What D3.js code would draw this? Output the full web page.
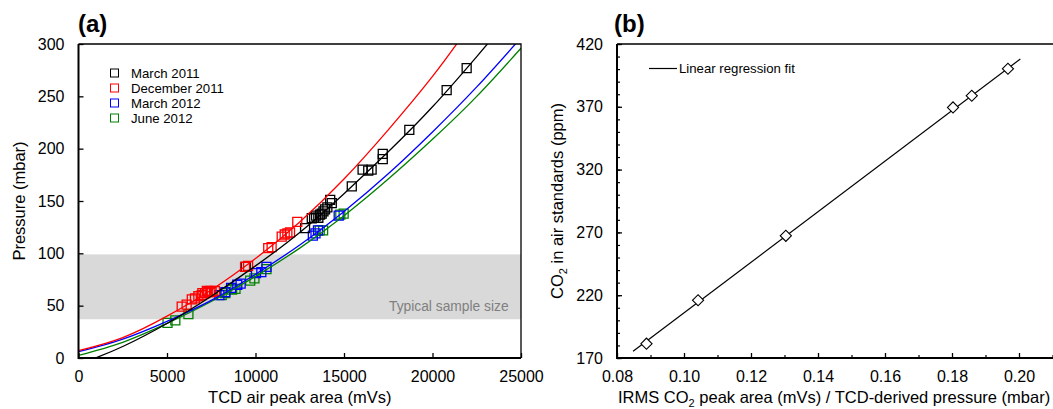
<!DOCTYPE html>
<html>
<head>
<meta charset="utf-8">
<script src="https://cdn.jsdelivr.net/npm/d3@7"></script>
<style>
  body { margin: 0; background: #fff; }
  text { font-family: "Liberation Sans", Arial, sans-serif; }
</style>
</head>
<body>
<svg id="chart" width="1053" height="409"></svg>
<script>
// ---- panel (a) data: TCD air peak area (mVs) vs pressure (mbar)
const seriesNames = ["March 2011", "December 2011", "March 2012", "June 2012"];
const seriesColors = ["#000000", "#ff0000", "#0000ff", "#008000"];

const mar2011Area = [9450, 12800, 13180, 13310, 13420, 13550, 13650, 13740, 13840, 13930, 14060, 14220, 14310, 15440, 16050, 16370, 16560, 17190, 17190, 18690, 20800, 21930];
const mar2011Pressure = [87, 124, 133.5, 134, 136, 134, 137, 138, 140, 142, 144, 151, 148, 164, 180, 179, 180, 195, 190, 218, 256, 277];

const dec2011Area = [5830, 6110, 6400, 6580, 6770, 6960, 7000, 7150, 7250, 7330, 7450, 7520, 7710, 9410, 9580, 10720, 10910, 11480, 11650, 11800, 11950, 12360];
const dec2011Pressure = [49, 51, 56, 57, 59, 60, 62, 62, 64, 63, 64, 63, 64, 87, 88, 105, 106, 116, 118, 119, 120, 130];

const mar2012Area = [7960, 8300, 8620, 8970, 9160, 10030, 10330, 10620, 13240, 13390, 13530, 14700];
const mar2012Pressure = [60, 63, 67, 70, 71, 81, 82, 87, 117, 119, 122, 136];

const jun2012Area = [5030, 5470, 6210, 8090, 8290, 8680, 8870, 9700, 9940, 10620, 13630, 13820, 14790, 14980];
const jun2012Pressure = [33.5, 36, 42, 60, 62, 65.4, 66, 74, 76, 85, 122, 122, 137, 138];

// fitted curves
const mar2011FitArea = [0, 950, 2500, 5000, 7500, 10000, 12500, 15000, 17500, 20000, 22500, 23700];
const mar2011FitPressure = [-6.4, 0, 11, 33, 59, 88, 120, 157, 197, 240, 288, 312];
const dec2011FitArea = [0, 2500, 5000, 7500, 10000, 12500, 15000, 17500, 20000, 22000];
const dec2011FitPressure = [7, 19.5, 40, 65, 95, 130, 171, 218, 269, 315];
const mar2012FitArea = [0, 2500, 5000, 7500, 10000, 12500, 15000, 17500, 20000, 22500, 25000];
const mar2012FitPressure = [6, 18, 35, 55, 80, 108, 140, 176, 216, 259, 306];
const jun2012FitArea = [0, 2500, 5000, 7500, 10000, 12500, 15000, 17500, 20000, 22500, 25000];
const jun2012FitPressure = [2.5, 15, 33, 54, 78, 105, 136, 171, 209, 250, 296];

const sampleBand = [37, 99];
const areaTicks = [0, 5000, 10000, 15000, 20000, 25000];
const pressureTicks = [0, 50, 100, 150, 200, 250, 300];

// ---- panel (b) data: IRMS CO2 ratio vs CO2 in air standards (ppm)
const ratioValues = [0.0888, 0.1042, 0.1304, 0.1803, 0.1859, 0.1967];
const co2Values = [181.4, 216.0, 267.3, 369.5, 378.8, 400.3];
const regressionRatio = [0.0848, 0.2004];
const regressionCo2 = [175.3, 408.0];
const ratioTicks = [0.08, 0.10, 0.12, 0.14, 0.16, 0.18, 0.20];
const ratioMinorTicks = [0.09, 0.11, 0.13, 0.15, 0.17, 0.19, 0.21];
const co2Ticks = [170, 220, 270, 320, 370, 420];

const svg = d3.select("#chart");
const zip = (xs, ys) => xs.map((x, i) => [x, ys[i]]);

// ================= panel (a)
const xA = d3.scaleLinear().domain([0, 25000]).range([78.5, 521]);
const yA = d3.scaleLinear().domain([0, 300]).range([358, 44]);
const gA = svg.append("g");

svg.append("clipPath").attr("id", "clipA")
  .append("rect")
  .attr("x", xA(0)).attr("y", yA(300))
  .attr("width", xA(25000) - xA(0)).attr("height", yA(0) - yA(300));

gA.append("rect")
  .attr("x", xA(0)).attr("width", xA(25000) - xA(0))
  .attr("y", yA(sampleBand[1])).attr("height", yA(sampleBand[0]) - yA(sampleBand[1]))
  .attr("fill", "#d9d9d9");

gA.append("text")
  .attr("x", xA(24300)).attr("y", yA(45))
  .attr("text-anchor", "end")
  .attr("font-size", 13.8)
  .attr("fill", "#7f7f7f")
  .text("Typical sample size");

const fits = [
  zip(mar2011FitArea, mar2011FitPressure),
  zip(dec2011FitArea, dec2011FitPressure),
  zip(mar2012FitArea, mar2012FitPressure),
  zip(jun2012FitArea, jun2012FitPressure)
];
const points = [
  zip(mar2011Area, mar2011Pressure),
  zip(dec2011Area, dec2011Pressure),
  zip(mar2012Area, mar2012Pressure),
  zip(jun2012Area, jun2012Pressure)
];

const plotA = gA.append("g").attr("clip-path", "url(#clipA)");
const lineA = d3.line().x(d => xA(d[0])).y(d => yA(d[1])).curve(d3.curveNatural);
const square = d3.symbol(d3.symbolSquare, 81);

// draw order: green, blue, black, red on top for points
[3, 2, 0, 1].forEach(i => {
  plotA.selectAll(null)
    .data(points[i])
    .enter()
    .append("path")
    .attr("d", square)
    .attr("transform", d => `translate(${xA(d[0])},${yA(d[1])})`)
    .attr("fill", "none")
    .attr("stroke", seriesColors[i])
    .attr("stroke-width", 1.3);
});
[3, 2, 0, 1].forEach(i => {
  plotA.append("path")
    .attr("d", lineA(fits[i]))
    .attr("fill", "none")
    .attr("stroke", seriesColors[i])
    .attr("stroke-width", 1.3);
});

gA.append("g")
  .attr("transform", `translate(0,${yA(0)})`)
  .call(d3.axisBottom(xA).tickValues(areaTicks).tickSize(-5).tickPadding(13).tickFormat(d3.format("d")))
  .call(g => g.select(".domain").remove())
  .call(g => g.selectAll("text").attr("font-size", 16).attr("fill", "#000").attr("font-family", null))
  .call(g => g.selectAll("line").attr("stroke-width", 1.3));

gA.append("g")
  .attr("transform", `translate(${xA(0)},0)`)
  .call(d3.axisLeft(yA).tickValues(pressureTicks).tickSize(-5).tickPadding(14))
  .call(g => g.select(".domain").remove())
  .call(g => g.selectAll("text").attr("font-size", 16).attr("fill", "#000").attr("font-family", null))
  .call(g => g.selectAll("line").attr("stroke-width", 1.3));

// frame
gA.append("path")
  .attr("d", `M${xA(0)},${yA(300)}H${xA(25000)}V${yA(0)}`)
  .attr("fill", "none").attr("stroke", "#000").attr("stroke-width", 1.3);
gA.append("path")
  .attr("d", `M${xA(0)},${yA(300)}V${yA(0)}H${xA(25000)}`)
  .attr("fill", "none").attr("stroke", "#000").attr("stroke-width", 2);

// legend
const legA = gA.append("g");
seriesNames.forEach((name, i) => {
  const y = 73 + i * 15;
  legA.append("rect")
    .attr("x", 110.5).attr("y", y - 4).attr("width", 8).attr("height", 8)
    .attr("fill", "none").attr("stroke", seriesColors[i]).attr("stroke-width", 1);
  legA.append("text")
    .attr("x", 131).attr("y", y).attr("dy", "0.35em")
    .attr("font-size", 13.2)
    .text(name);
});

gA.append("text")
  .attr("x", (xA(0) + xA(25000)) / 2).attr("y", 403)
  .attr("text-anchor", "middle").attr("font-size", 16.5)
  .text("TCD air peak area (mVs)");

gA.append("text")
  .attr("transform", `translate(25,${(yA(0) + yA(300)) / 2}) rotate(-90)`)
  .attr("text-anchor", "middle").attr("font-size", 16.5)
  .text("Pressure (mbar)");

gA.append("text")
  .attr("x", 78).attr("y", 32)
  .attr("font-size", 24).attr("font-weight", "bold")
  .text("(a)");

// ================= panel (b)
const xB = d3.scaleLinear().domain([0.08, 0.20]).range([617, 1019]);
const yB = d3.scaleLinear().domain([170, 420]).range([358, 44]);
const rightB = xB(0.2125);
const gB = svg.append("g");

gB.append("line")
  .attr("x1", xB(regressionRatio[0])).attr("y1", yB(regressionCo2[0]))
  .attr("x2", xB(regressionRatio[1])).attr("y2", yB(regressionCo2[1]))
  .attr("stroke", "#000").attr("stroke-width", 1.2);

const diamond = d3.symbol(d3.symbolSquare, 62);
gB.selectAll(null)
  .data(zip(ratioValues, co2Values))
  .enter()
  .append("path")
  .attr("d", diamond)
  .attr("transform", d => `translate(${xB(d[0])},${yB(d[1])}) rotate(45)`)
  .attr("fill", "#fff")
  .attr("stroke", "#000")
  .attr("stroke-width", 1.1);

gB.append("g")
  .attr("transform", `translate(0,${yB(170)})`)
  .call(d3.axisBottom(xB).tickValues(ratioMinorTicks).tickSize(-3).tickFormat(""))
  .call(g => g.select(".domain").remove())
  .call(g => g.selectAll("line").attr("stroke-width", 1.2));

gB.append("g")
  .attr("transform", `translate(0,${yB(170)})`)
  .call(d3.axisBottom(xB).tickValues(ratioTicks).tickSize(-5).tickPadding(13).tickFormat(d3.format(".2f")))
  .call(g => g.select(".domain").remove())
  .call(g => g.selectAll("text").attr("font-size", 16).attr("fill", "#000").attr("font-family", null))
  .call(g => g.selectAll("line").attr("stroke-width", 1.3));

gB.append("g")
  .attr("transform", `translate(${xB(0.08)},0)`)
  .call(d3.axisLeft(yB).ticks(25).tickSize(-3).tickFormat(""))
  .call(g => g.select(".domain").remove())
  .call(g => g.selectAll("line").attr("stroke-width", 1.2));

gB.append("g")
  .attr("transform", `translate(${xB(0.08)},0)`)
  .call(d3.axisLeft(yB).tickValues(co2Ticks).tickSize(-5).tickPadding(14))
  .call(g => g.select(".domain").remove())
  .call(g => g.selectAll("text").attr("font-size", 16).attr("fill", "#000").attr("font-family", null))
  .call(g => g.selectAll("line").attr("stroke-width", 1.3));

gB.append("path")
  .attr("d", `M${xB(0.08)},${yB(420)}H${rightB}V${yB(170)}`)
  .attr("fill", "none").attr("stroke", "#000").attr("stroke-width", 1.3);
gB.append("path")
  .attr("d", `M${xB(0.08)},${yB(420)}V${yB(170)}H${rightB}`)
  .attr("fill", "none").attr("stroke", "#000").attr("stroke-width", 2);

gB.append("line")
  .attr("x1", 649).attr("x2", 677).attr("y1", 68.5).attr("y2", 68.5)
  .attr("stroke", "#000").attr("stroke-width", 1.2);
gB.append("text")
  .attr("x", 679).attr("y", 68.5).attr("dy", "0.35em")
  .attr("font-size", 13.2)
  .text("Linear regression fit");

const xTitle = gB.append("text")
  .attr("x", 618).attr("y", 403)
  .attr("font-size", 16.5);
xTitle.append("tspan").text("IRMS CO");
xTitle.append("tspan").attr("font-size", 11).attr("dy", 4).text("2");
xTitle.append("tspan").attr("dy", -4).text(" peak area (mVs) / TCD-derived pressure (mbar)");

const yTitle = gB.append("text")
  .attr("transform", `translate(563,${(yB(170) + yB(420)) / 2}) rotate(-90)`)
  .attr("text-anchor", "middle").attr("font-size", 16.5);
yTitle.append("tspan").text("CO");
yTitle.append("tspan").attr("font-size", 11).attr("dy", 4).text("2");
yTitle.append("tspan").attr("dy", -4).text(" in air standards (ppm)");

gB.append("text")
  .attr("x", 614).attr("y", 32)
  .attr("font-size", 24).attr("font-weight", "bold")
  .text("(b)");
</script>
</body>
</html>
